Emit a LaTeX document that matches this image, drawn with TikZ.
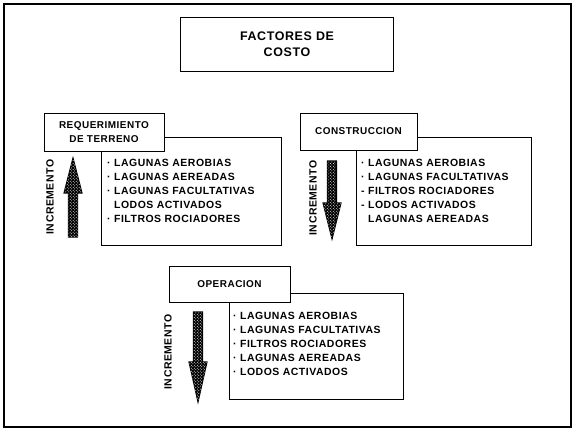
\documentclass[tikz,border=0pt]{standalone}
\usepackage{fontspec}
\setmainfont{Liberation Sans}
\newfontfamily\spacedfont[LetterSpace=5]{Liberation Sans}
\usetikzlibrary{patterns}

\tikzset{
  marco/.style={line width=1.4pt},
  caja/.style={draw, line width=0.7pt, fill=white, align=center, inner sep=0pt,
    font=\spacedfont\bfseries\fontsize{10}{13.5}\selectfont},
  lista/.style={anchor=north west, align=left, inner sep=0pt,
    font=\spacedfont\bfseries\fontsize{10.5}{14}\selectfont},
  incr/.style={rotate=90, inner sep=0pt, font=\spacedfont\bfseries\fontsize{10.5}{12}\selectfont},
  flecha/.style={draw=black, line width=1.1pt, fill=black,
    postaction={pattern=crosshatch dots, pattern color=white}},
}

\begin{document}
\begin{tikzpicture}[x=1bp,y=-1bp]
  \useasboundingbox (0,0) rectangle (575,431);
  \draw[marco] (4,4) rectangle (571,427);

  % titulo
  \node[caja, minimum width=213bp, minimum height=54bp,
    font=\spacedfont\bfseries\fontsize{12.5}{16}\selectfont] (titulo) at (287,44)
    {FACTORES DE\\COSTO};

  % requerimiento de terreno
  \draw[line width=0.7pt] (101,137) rectangle (281,245);
  \node[caja, minimum width=120bp, minimum height=38bp] (req) at (104,132)
    {REQUERIMIENTO\\DE TERRENO};
  \node[lista] (reqlista) at (107,159)
    {· LAGUNAS AEROBIAS\\· LAGUNAS AEREADAS\\· LAGUNAS FACULTATIVAS\\
     \phantom{· }LODOS ACTIVADOS\\· FILTROS ROCIADORES};
  \filldraw[flecha] (68.5,237) -- (68.5,193) -- (64,193) -- (73,158) -- (82,193)
    -- (77.5,193) -- (77.5,237) -- cycle;
  \node[incr] (reqincr) at (50,197) {INCREMENTO};

  % construccion
  \draw[line width=0.7pt] (356,137) rectangle (531,245);
  \node[caja, minimum width=117bp, minimum height=37bp] (cons) at (358.5,131.5)
    {CONSTRUCCION};
  \node[lista] (conslista) at (361,159)
    {· LAGUNAS AEROBIAS\\· LAGUNAS FACULTATIVAS\\- FILTROS ROCIADORES\\
     - LODOS ACTIVADOS\\\phantom{- }LAGUNAS AEREADAS};
  \filldraw[flecha] (327.5,161) -- (327.5,203) -- (323,203) -- (332,239) -- (341,203)
    -- (336.5,203) -- (336.5,161) -- cycle;
  \node[incr] (consincr) at (313,198) {INCREMENTO};

  % operacion
  \draw[line width=0.7pt] (229,293) rectangle (403,399);
  \node[caja, minimum width=121bp, minimum height=36bp] (oper) at (229.5,284)
    {OPERACION};
  \node[lista] (operlista) at (233,312)
    {· LAGUNAS AEROBIAS\\· LAGUNAS FACULTATIVAS\\· FILTROS ROCIADORES\\
     · LAGUNAS AEREADAS\\· LODOS ACTIVADOS};
  \filldraw[flecha] (193.5,312) -- (193.5,362) -- (189,362) -- (198,402) -- (207,362)
    -- (202.5,362) -- (202.5,312) -- cycle;
  \node[incr] (operincr) at (168,352) {INCREMENTO};
\end{tikzpicture}
\end{document}
